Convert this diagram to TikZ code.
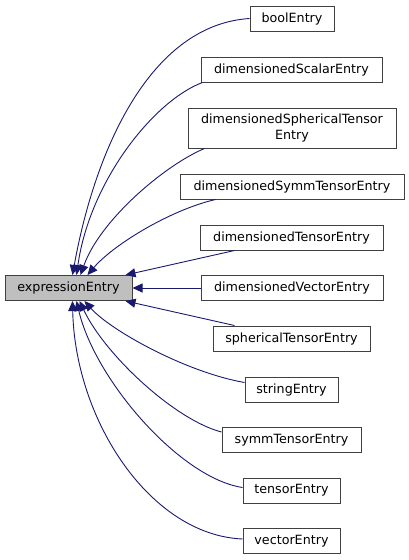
\documentclass[tikz,border=0pt]{standalone}
\usepackage{fontspec}
\setmainfont{DejaVu Sans}
\usetikzlibrary{arrows.meta}
\definecolor{edgeblue}{HTML}{191970}
\definecolor{boxline}{HTML}{404040}
\definecolor{basefill}{HTML}{BFBFBF}
\begin{document}
\begin{tikzpicture}[x=1pt,y=-1pt,
  box/.style={draw=boxline,line width=1pt,fill=white,inner sep=0pt,minimum height=25pt,align=center,font=\fontsize{12.7}{16}\selectfont},
  edge/.style={draw=edgeblue,line width=0.9pt,-{Triangle[length=10pt,width=9pt,fill=edgeblue]}}]
\useasboundingbox (0,0) rectangle (409,560);
\node[box,fill=basefill,minimum width=127pt] (expr) at (68.5,288) {expressionEntry};
\node[box,minimum width=84pt] (bool) at (292,18.5) {boolEntry};
\node[box,minimum width=181pt] (dsc) at (291.5,69.5) {dimensionedScalarEntry};
\node[box,minimum width=208pt,minimum height=40pt] (dsph) at (292,128) {dimensionedSphericalTensor\\Entry};
\node[box,minimum width=224pt] (dsym) at (292,186.5) {dimensionedSymmTensorEntry};
\node[box,minimum width=183pt] (dten) at (291.5,237.5) {dimensionedTensorEntry};
\node[box,minimum width=182pt] (dvec) at (292,288) {dimensionedVectorEntry};
\node[box,minimum width=157pt] (sph) at (291.5,338.5) {sphericalTensorEntry};
\node[box,minimum width=93pt] (str) at (291.5,389.5) {stringEntry};
\node[box,minimum width=139pt] (sym) at (291.5,440) {symmTensorEntry};
\node[box,minimum width=97pt] (ten) at (291.5,490.5) {tensorEntry};
\node[box,minimum width=97pt] (vec) at (291.5,541) {vectorEntry};
\path[edge] (bool.west) .. controls (150,25) and (95,150) .. ([xshift=68pt]expr.north west);
\path[edge] ([xshift=2pt]dsc.south west) .. controls (155,100) and (90,180) .. ([xshift=72pt]expr.north west);
\path[edge] ([xshift=17pt]dsph.south west) .. controls (165,165) and (100,220) .. ([xshift=76pt]expr.north west);
\path[edge] ([xshift=36pt]dsym.south west) .. controls (170,210) and (113,245) .. ([xshift=83pt]expr.north west);
\path[edge] ([xshift=35pt]dten.south west) -- ([xshift=-7pt]expr.north east);
\path[edge] (dvec.west) -- (expr.east);
\path[edge] ([xshift=22pt]sph.north west) -- ([xshift=-7pt]expr.south east);
\path[edge] ([yshift=-6pt]str.north west) .. controls (185,372) and (110,330) .. ([xshift=80pt]expr.south west);
\path[edge] ([yshift=-5pt]sym.north west) .. controls (175,420) and (105,355) .. ([xshift=75pt]expr.south west);
\path[edge] ([yshift=-10pt]ten.north west) .. controls (180,478) and (95,380) .. ([xshift=72pt]expr.south west);
\path[edge] ([yshift=-11pt]vec.north west) .. controls (150,535) and (75,420) .. ([xshift=68pt]expr.south west);
\end{tikzpicture}
\end{document}
